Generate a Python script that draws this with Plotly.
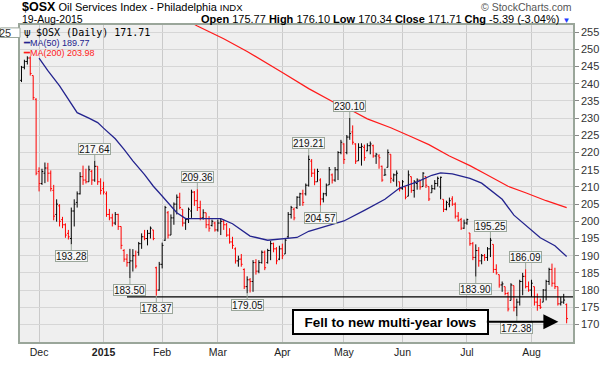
import pandas as pd
import plotly.graph_objects as go

# ---------------- data ----------------
holidays = ["2014-11-27", "2014-12-25", "2015-01-01", "2015-01-19",
            "2015-02-16", "2015-04-03", "2015-05-25", "2015-07-03"]
_days = pd.bdate_range("2014-11-20", "2015-08-19")
dates = [d.strftime("%Y-%m-%d") for d in _days if d.strftime("%Y-%m-%d") not in holidays]

opens = [241.0, 244.8, 246.5, 247.5, 242.4, 235.5, 214.5, 211.0, 214.0, 215.5,
         214.0, 209.0, 202.0, 204.5, 200.5, 199.0, 196.5, 195.0, 203.0, 205.5,
         208.0, 213.0, 212.0, 211.5, 214.5, 212.0, 216.0, 211.5, 209.5, 208.0,
         202.0, 201.0, 199.5, 202.0, 198.5, 191.5, 189.0, 188.0, 188.5, 190.0,
         191.0, 193.5, 195.5, 195.0, 196.5, 197.5, 186.5, 180.0, 187.5, 194.5,
         202.5, 196.0, 201.0, 205.0, 207.0, 203.5, 199.5, 200.5, 203.0, 208.5,
         206.0, 204.0, 201.0, 202.5, 199.0, 198.8, 199.5, 197.5, 199.5, 200.0,
         199.0, 196.0, 194.0, 192.0, 188.5, 189.0, 186.0, 181.0, 183.0, 182.5,
         188.0, 185.5, 188.0, 191.0, 188.0, 191.5, 193.5, 192.0, 189.0, 192.0,
         190.5, 195.5, 202.0, 203.5, 204.0, 207.0, 208.0, 208.0, 210.5, 217.5,
         214.0, 211.5, 212.0, 206.5, 208.0, 210.6, 213.5, 212.0, 215.0, 220.0,
         222.5, 220.0, 224.5, 226.0, 222.5, 217.6, 221.5, 221.5, 220.5, 222.0,
         222.0, 219.0, 219.0, 216.0, 213.4, 215.7, 219.5, 212.0, 213.5, 211.5,
         209.5, 210.0, 207.3, 213.0, 209.0, 211.0, 212.0, 210.1, 213.0, 210.1,
         208.3, 209.5, 211.0, 210.0, 206.4, 203.5, 205.0, 206.5, 205.0, 201.5,
         200.5, 198.0, 199.5, 196.6, 193.5, 189.5, 191.5, 188.5, 190.0, 189.5,
         192.0, 193.3, 186.0, 184.5, 181.5, 181.0, 179.0, 177.0, 181.3, 175.0,
         176.5, 182.5, 184.0, 181.0, 180.0, 181.0, 176.5, 175.5, 176.5, 180.0,
         182.5, 186.0, 182.0, 181.0, 176.0, 176.5, 175.77]
highs = [245.2, 247.0, 248.0, 248.0, 242.4, 235.8, 215.7, 215.3, 217.1, 217.0,
         214.8, 210.6, 206.4, 205.0, 201.3, 199.4, 197.5, 204.0, 206.4, 208.7,
         214.3, 216.2, 215.3, 216.2, 215.0, 217.64, 216.0, 212.5, 211.5, 208.7,
         203.6, 202.2, 202.7, 202.2, 198.5, 191.9, 190.5, 192.0, 191.9, 191.5,
         194.0, 196.5, 197.5, 197.5, 198.5, 197.5, 186.8, 188.2, 193.8, 204.5,
         203.0, 202.0, 205.5, 207.8, 208.3, 203.5, 201.0, 204.0, 209.2, 208.8,
         209.36, 206.0, 203.5, 202.5, 201.5, 200.5, 199.9, 200.5, 200.8, 200.5,
         199.5, 198.0, 195.5, 192.4, 190.0, 190.5, 186.3, 184.0, 183.5, 188.7,
         189.0, 188.7, 191.5, 191.5, 192.0, 194.3, 193.8, 192.5, 192.9, 193.5,
         195.0, 202.7, 204.5, 204.0, 207.3, 208.3, 209.2, 211.0, 219.21, 218.1,
         215.3, 215.3, 212.5, 208.3, 211.0, 215.8, 213.9, 215.8, 220.4, 223.7,
         222.7, 225.1, 230.10, 227.9, 222.7, 222.7, 222.7, 222.3, 222.7, 223.2,
         222.3, 219.9, 219.5, 216.2, 215.3, 220.9, 219.5, 213.9, 214.8, 211.5,
         212.0, 210.1, 214.8, 213.0, 212.0, 212.5, 212.0, 214.3, 213.0, 210.1,
         210.6, 212.0, 213.0, 213.0, 206.4, 206.0, 206.9, 207.3, 205.5, 202.7,
         201.0, 200.5, 200.8, 196.6, 194.0, 193.3, 192.5, 190.5, 190.5, 192.5,
         195.25, 193.3, 187.5, 184.5, 182.5, 181.0, 179.5, 182.0, 181.3, 177.5,
         183.0, 185.0, 186.09, 182.5, 183.0, 181.0, 179.0, 177.5, 180.3, 183.0,
         186.5, 187.7, 186.5, 181.0, 178.0, 178.9, 176.10]
lows = [240.5, 244.2, 245.6, 242.4, 235.3, 213.4, 208.7, 210.6, 211.1, 211.5,
        208.7, 200.3, 199.9, 198.5, 198.0, 195.2, 194.7, 193.28, 198.5, 204.0,
        207.8, 210.6, 211.0, 211.5, 210.6, 211.5, 210.6, 207.8, 207.8, 201.3,
        200.3, 198.5, 198.9, 197.5, 191.9, 188.2, 186.8, 183.50, 185.4, 186.3,
        190.0, 192.0, 194.5, 193.0, 195.0, 194.5, 178.37, 179.8, 186.3, 194.3,
        195.0, 196.0, 199.0, 202.0, 203.5, 198.5, 197.5, 199.5, 201.0, 204.5,
        203.0, 200.3, 200.5, 198.0, 197.0, 198.5, 197.0, 197.0, 196.0, 197.5,
        195.5, 193.5, 192.0, 187.7, 186.8, 186.8, 180.3, 179.05, 179.3, 179.5,
        184.5, 184.9, 187.7, 185.8, 187.7, 188.7, 191.0, 187.5, 188.7, 189.0,
        190.5, 195.2, 200.8, 200.3, 203.6, 204.5, 204.5, 207.5, 210.1, 212.9,
        210.5, 211.5, 204.57, 205.5, 207.3, 210.6, 211.0, 211.5, 212.0, 219.5,
        216.7, 219.5, 223.7, 222.3, 216.7, 217.6, 216.2, 217.6, 220.4, 219.5,
        218.5, 216.7, 215.3, 211.5, 213.4, 215.7, 211.1, 211.5, 210.1, 208.7,
        209.2, 206.4, 207.3, 208.3, 206.9, 209.2, 209.2, 210.1, 209.7, 205.9,
        208.3, 209.2, 210.1, 206.4, 202.7, 203.2, 204.1, 204.5, 200.8, 199.9,
        197.5, 197.8, 199.0, 192.9, 188.7, 183.90, 186.8, 187.5, 188.5, 188.5,
        189.6, 185.0, 184.5, 180.7, 179.5, 178.5, 173.8, 177.0, 173.8, 172.38,
        175.5, 178.5, 180.5, 179.5, 178.0, 175.5, 174.0, 174.5, 176.5, 177.0,
        181.5, 181.0, 180.3, 175.5, 175.5, 176.0, 170.34]
closes = [244.8, 246.5, 247.5, 243.0, 236.0, 214.0, 211.0, 214.5, 215.5, 214.0,
          209.5, 201.5, 205.0, 200.0, 199.0, 196.0, 195.5, 203.0, 205.0, 208.0,
          213.0, 212.0, 211.5, 215.0, 212.0, 216.0, 211.5, 209.0, 208.5, 202.0,
          201.0, 199.5, 202.0, 198.5, 193.0, 189.0, 188.0, 188.5, 190.0, 187.0,
          193.5, 195.5, 195.0, 196.5, 198.0, 195.0, 180.0, 187.5, 193.0, 204.0,
          196.0, 201.0, 205.0, 207.0, 204.0, 199.5, 200.5, 203.5, 208.5, 206.0,
          204.0, 201.0, 202.5, 199.0, 198.0, 200.0, 197.5, 199.5, 200.0, 199.0,
          196.0, 194.0, 193.0, 188.5, 189.0, 187.5, 181.0, 183.0, 182.5, 188.0,
          185.5, 188.0, 191.0, 186.5, 191.5, 193.5, 192.0, 188.5, 192.0, 190.0,
          194.5, 202.0, 204.0, 201.0, 207.0, 208.0, 205.5, 210.5, 218.0, 214.0,
          211.5, 214.5, 206.5, 208.0, 210.5, 215.0, 212.0, 215.0, 220.0, 223.0,
          218.0, 224.5, 225.5, 223.0, 217.5, 221.5, 221.8, 218.5, 222.0, 222.5,
          219.0, 219.5, 218.5, 212.0, 213.5, 220.0, 212.5, 213.5, 214.0, 209.5,
          211.5, 207.0, 213.5, 209.0, 211.5, 212.0, 210.0, 214.0, 210.5, 206.5,
          209.5, 211.0, 212.5, 212.8, 203.5, 205.5, 206.0, 205.0, 201.5, 200.3,
          198.0, 199.5, 200.5, 193.5, 189.5, 191.5, 188.5, 190.0, 189.5, 192.0,
          194.5, 186.0, 185.0, 181.5, 181.8, 179.0, 174.5, 181.5, 175.0, 176.5,
          182.5, 184.0, 181.0, 180.0, 182.0, 176.5, 175.5, 175.0, 180.0, 182.5,
          186.0, 182.0, 181.0, 176.0, 176.5, 177.1, 171.71]

# moving averages (trading-day index, value)
ma50_idx = [6, 9, 13, 16, 19, 23, 26, 28, 32, 35, 38, 42, 45, 47, 49, 53, 56, 59, 68,
            72, 75, 78, 84, 89, 94, 98, 104, 110, 117, 124, 129, 135, 140, 143, 147,
            153, 157, 160, 164, 168, 173, 177, 182, 186]
ma50_val = [247.5, 243.8, 239.4, 235.4, 231.6, 230.0, 228.7, 227.1, 224.0, 220.9,
            217.6, 213.6, 210.2, 208.3, 206.4, 202.5, 200.8, 200.8, 200.8, 199.3,
            197.6, 195.7, 194.5, 194.8, 195.3, 197.1, 198.5, 200.1, 203.2, 206.4,
            209.7, 211.5, 213.4, 214.1, 213.8, 212.5, 211.1, 209.2, 206.4, 201.8,
            198.0, 195.2, 192.9, 189.77]
ma200_idx = [58, 60, 69, 77, 89, 98, 107, 113, 118, 126, 133, 139, 146, 153, 158,
             166, 172, 179, 186]
ma200_val = [257.8, 256.8, 253.1, 249.4, 243.3, 238.6, 234.4, 232.1, 229.8, 227.2,
             224.6, 222.3, 219.0, 216.2, 213.9, 210.2, 208.3, 206.0, 203.98]

# annotated highs / lows
label_idx = [25, 17, 37, 46, 60, 77, 98, 102, 112, 160, 155, 172, 169]
label_val = [217.64, 193.28, 183.50, 178.37, 209.36, 179.05, 219.21, 204.57,
             230.10, 195.25, 183.90, 186.09, 172.38]
label_side = ["hi", "lo", "lo", "lo", "hi", "lo", "hi", "lo", "hi", "hi", "lo", "hi", "lo"]

support_level = 178.0
support_start = 36

month_ticks = ["2014-12-01", "2015-01-02", "2015-02-02", "2015-03-02", "2015-04-01",
               "2015-05-01", "2015-06-01", "2015-07-01", "2015-08-03"]
month_labels = ["Dec", "<b>2015</b>", "Feb", "Mar", "Apr", "May", "Jun", "Jul", "Aug"]
y_ticks = list(range(170, 256, 5))

# ---------------- figure ----------------
W, H = 611, 370
L, R, T, B = 20, 25, 25, 15
PW, PH = W - L - R, H - T - B


def px(x):
    return (x - L) / PW


def py(y):
    return (H - B - y) / PH


n = len(dates)
up = [i for i in range(n) if i == 0 or closes[i] >= closes[i - 1]]
dn = [i for i in range(n) if i > 0 and closes[i] < closes[i - 1]]

fig = go.Figure()


def add_ohlc(idx, color):
    fig.add_trace(go.Ohlc(
        x=[dates[i] for i in idx],
        open=[opens[i] for i in idx], high=[highs[i] for i in idx],
        low=[lows[i] for i in idx], close=[closes[i] for i in idx],
        increasing=dict(line=dict(color=color, width=1)),
        decreasing=dict(line=dict(color=color, width=1)),
        tickwidth=0.45, hoverinfo="skip", showlegend=False))


add_ohlc(up, "#000000")
add_ohlc(dn, "#FF0000")

fig.add_trace(go.Scatter(x=[dates[i] for i in ma200_idx], y=ma200_val, mode="lines",
                         line=dict(color="#FF1A1A", width=1.2), hoverinfo="skip",
                         showlegend=False))
fig.add_trace(go.Scatter(x=[dates[i] for i in ma50_idx], y=ma50_val, mode="lines",
                         line=dict(color="#23238E", width=1.3), hoverinfo="skip",
                         showlegend=False))

# support line
fig.add_shape(type="line", xref="x", yref="y", x0=support_start, x1=n + 2,
              y0=support_level, y1=support_level, line=dict(color="#000000", width=1.2))

# price labels
for i, v, s in zip(label_idx, label_val, label_side):
    fig.add_annotation(x=dates[i], y=v, xref="x", yref="y", text=f"{v:.2f}",
                       showarrow=True, arrowhead=0, arrowwidth=1, arrowcolor="#9AA69A",
                       ax=0, ay=-12 if s == "hi" else 12,
                       font=dict(family="Arial", size=10, color="#111111"),
                       bgcolor="#F7F7F7", bordercolor="#9AA69A", borderwidth=1,
                       borderpad=0, height=10, width=31)

# comment box + arrow
fig.add_annotation(x=px(399.5), y=py(334), xref="paper", yref="paper",
                   xanchor="center", yanchor="middle",
                   text="<b>Fell to new multi-year lows</b>", showarrow=False,
                   font=dict(family="Arial", size=13.5, color="#000000"),
                   bgcolor="#FFFFFF", bordercolor="#000000", borderwidth=2,
                   borderpad=1, width=191, height=20)
fig.add_annotation(x=px(571), y=py(334), xref="paper", yref="paper", text="",
                   showarrow=True, ax=-73, ay=0, arrowhead=2, arrowsize=1.5,
                   arrowwidth=2, arrowcolor="#000000")


def note(x, y, text, anchor, font):
    fig.add_annotation(x=px(x), y=py(y), xref="paper", yref="paper", xanchor=anchor,
                       yanchor="middle", text=text, showarrow=False, font=font)


# in-chart legend
fig.add_shape(type="rect", xref="paper", yref="paper", x0=px(0), x1=px(20),
              y0=py(38), y1=py(28), line=dict(color="#9AA69A", width=1),
              fillcolor="#FFFFFF")
note(13, 33, "25", "right", dict(family="Arial", size=11, color="#333333"))
note(22, 33, "ψ", "left", dict(family="DejaVu Sans", size=10, color="#000000"))
note(34, 33, f"$OSX (Daily) {closes[-1]:.2f}", "left",
     dict(family="DejaVu Sans Mono", size=10, color="#000000"))
note(21.5, 43.5, f"<span style='font-size:10px'>━</span>MA(50) {ma50_val[-1]:.2f}", "left",
     dict(family="Arial", size=9, color="#23238E"))
note(21.5, 53.5, f"<span style='font-size:10px'>━</span>MA(200) {ma200_val[-1]:.2f}", "left",
     dict(family="Arial", size=9, color="#FF1A1A"))

# header
note(20.5, 6, "<b><span style='font-size:12.5px'>$OSX</span></b> Oil Services Index - Philadelphia "
              "<span style='font-size:9.5px'>INDX</span>", "left",
     dict(family="Arial", size=11, color="#000000"))
note(20.5, 18.5, "19-Aug-2015", "left", dict(family="Arial", size=10.5, color="#000000"))
chg = closes[-1] - closes[-2]
pct = chg / closes[-2] * 100
note(585, 18.5, (f"<b>Open</b> {opens[-1]:.2f} <b>High</b> {highs[-1]:.2f} "
                 f"<b>Low</b> {lows[-1]:.2f} <b>Close</b> {closes[-1]:.2f} "
                 f"<b>Chg</b> {chg:.2f} ({pct:.2f}%) "
                 "<span style='color:#1E3CFF;font-size:8px'>▼</span>"), "right",
     dict(family="Arial", size=11, color="#000000"))
note(587, 6, "© StockCharts.com", "right", dict(family="Arial", size=10.5, color="#555555"))

fig.update_layout(
    width=W, height=H,
    margin=dict(l=L, r=R, t=T, b=B),
    paper_bgcolor="#FFFFFF", plot_bgcolor="#EFEFEF",
    showlegend=False, hovermode=False,
    xaxis=dict(type="category", categoryorder="array", categoryarray=dates,
               range=[-0.5, -0.5 + PW / 3.0], tickvals=month_ticks, ticktext=month_labels,
               showgrid=True, gridcolor="#CACACA", gridwidth=1,
               showline=True, mirror=True, linecolor="#9AA69A", linewidth=1.5,
               ticks="", tickfont=dict(family="Arial", size=10.5, color="#222222"),
               rangeslider=dict(visible=False), fixedrange=True),
    yaxis=dict(side="right", range=[164.9, 257.1], tickvals=y_ticks,
               showgrid=True, gridcolor="#D6D6D6", gridwidth=1,
               showline=True, mirror=True, linecolor="#9AA69A", linewidth=1.5,
               ticks="outside", ticklen=4, tickcolor="#888888",
               tickfont=dict(family="Arial", size=11, color="#333333"),
               zeroline=False, fixedrange=True),
)

fig.write_html("out.html", config={"displayModeBar": False},
               post_script="document.body.style.margin='0';document.body.style.overflow='hidden';")
